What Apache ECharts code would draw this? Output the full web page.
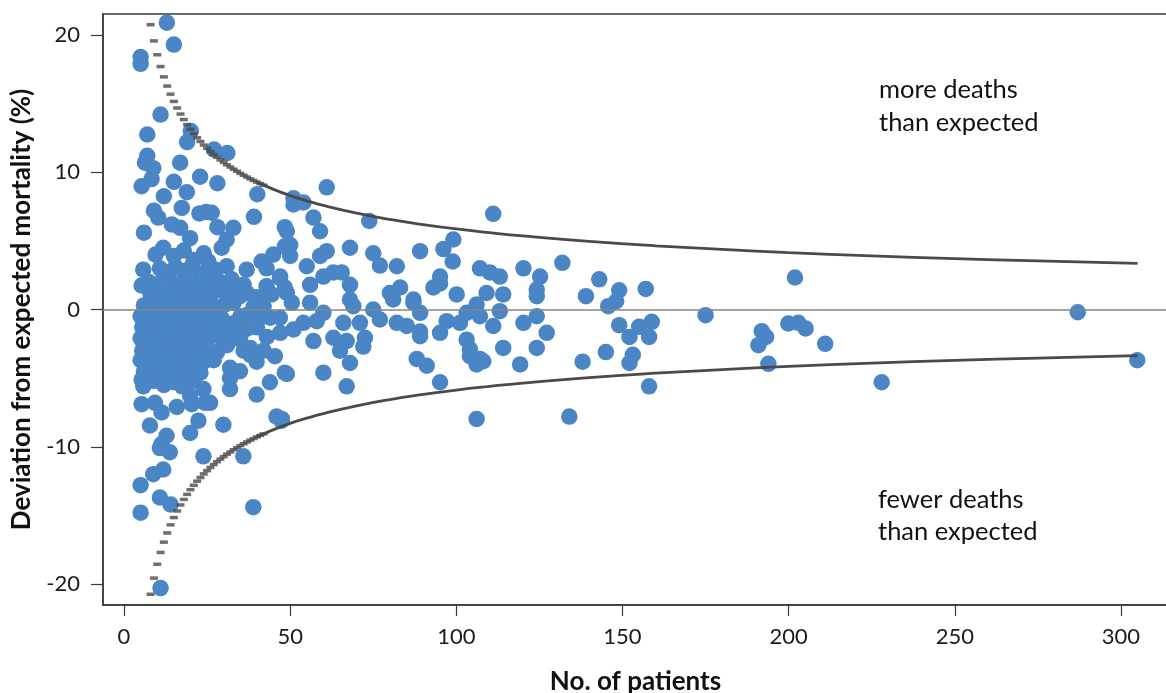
<!DOCTYPE html>
<html><head><meta charset="utf-8">
<script src="https://cdn.jsdelivr.net/npm/echarts@6/dist/echarts.min.js"></script>
<style>html,body{margin:0;padding:0;background:#fff}#c{width:1166px;height:693px}</style>
</head><body><div id="c"></div>
<script>
// Tick labels
const xTicks = [0, 50, 100, 150, 200, 250, 300];
const yTicks = [-20, -10, 0, 10, 20];

// Hospitals: [number of patients, deviation from expected mortality %]
const outerPoints = [
  [12.9,20.9],[15.0,19.3],[5.0,18.4],[5.0,17.9],[11.0,14.2],[7.0,12.75],[20.1,13.0],[19.0,12.2],[27.1,11.65],[31.1,11.4],
  [7.0,11.2],[6.3,10.7],[8.8,10.3],[16.9,10.7],[22.9,9.67],[5.3,8.98],[8.3,9.5],[15.0,9.3],[18.9,8.55],[12.0,8.25],
  [17.4,7.4],[9.0,7.2],[10.3,6.7],[22.7,7.0],[24.7,7.1],[26.4,7.05],[14.4,6.2],[6.0,5.6],[16.9,5.95],[19.9,5.2],
  [11.8,4.5],[28.1,9.2],[40.1,8.4],[39.1,6.75],[28.1,6.0],[32.9,5.95],[30.9,5.1],[29.4,4.5],[48.4,6.0],[48.4,4.6],
  [44.9,4.0],[41.4,3.5],[42.9,3.0],[36.9,2.9],[46.9,2.3],[42.9,1.7],[48.4,1.6],[44.4,1.1],[34.9,0.97],[32.4,2.2],
  [30.9,3.15],[25.4,3.5],[5.8,2.9],[10.8,3.0],[5.3,1.75],[11.8,2.2],
  [15,3.9],[18,4.3],[21,3.6],[24,4.1],[9.5,4.0]
];
const midPoints = [
  [61.0,8.9],[51.0,8.1],[51.0,7.65],[54.0,7.8],[57.0,6.7],[59.0,5.7],[73.8,6.45],[111.1,6.97],[49.0,5.7],[50.0,4.7],
  [50.0,3.9],[55.0,3.15],[59.0,3.9],[61.0,4.25],[68.0,4.5],[75.0,4.1],[77.0,3.2],[82.1,3.15],[89.1,4.25],[99.1,5.1],
  [96.1,4.4],[98.9,3.5],[107.1,3.0],[110.1,2.7],[113.1,2.4],[120.2,3.0],[125.2,2.4],[131.9,3.4],[60.0,2.4],[63.0,2.7],
  [65.5,2.7],[56.0,1.8],[68.0,1.8],[95.1,2.4],[95.1,1.9],[93.1,1.6],[83.1,1.6],[80.0,1.2],[87.1,0.73],[100.1,1.1],
  [109.1,1.2],[114.1,1.1],[124.2,1.46],[124.2,0.97],[68.0,0.73],[69.0,0.24],[75.0,0],[77.0,-0.73],[66.0,-0.97],[71.0,-0.97],
  [81.0,0.73],[87.1,0.5],[89.1,-0.24],[82.1,-0.97],[85.1,-1.2],[89.1,-1.6],[89.1,-1.95],[95.1,-1.7],[97.1,-0.85],[101.1,-0.97],
  [103.1,-0.24],[106.1,0.36],[107.1,-0.49],[111.1,-1.2],[113.1,-0.12],[120.2,-0.97],[124.2,-0.49],[127.2,-1.7],[124.2,-2.8],[114.1,-2.8],
  [103.1,-2.2],[104.1,-2.9],[104.1,-3.4],[107.1,-3.6],[106.1,-4.0],[108.1,-3.77],[88.1,-3.6],[91.1,-4.1],[95.1,-5.3],[106.1,-7.97],
  [119.2,-4.0],[57.0,-2.3],[63.0,-2.06],[67.0,-2.3],[72.5,-2.06],[72.0,-2.7],[65.0,-3.0],[68.0,-3.9],[60.0,-4.6],[67.0,-5.6],
  [49.0,-4.7],[47.5,-7.97],[49,1.2],[50.5,0.5],[56,0.5],[60,-0.24],[54,-0.97],[58,-0.85],[47,-1.7],[51,-1.46],[47,2.4]
];
const rightPoints = [
  [143.0,2.2],[139.0,0.97],[149.0,1.4],[148.1,0.6],[145.7,0.24],[157.0,1.5],[149.0,-1.14],[152.1,-2.0],[155.0,-1.26],[158.8,-0.9],
  [158.0,-2.0],[145.0,-3.1],[138.0,-3.8],[153.1,-3.3],[152.1,-3.9],[158.0,-5.6],[134.0,-7.8],[175.0,-0.41],[201.9,2.33],[191.9,-1.58],
  [193.2,-2.0],[190.9,-2.6],[193.9,-3.96],[199.9,-1.02],[202.9,-0.97],[205.1,-1.38],[211.0,-2.5],[228.0,-5.3],[287.0,-0.2],[304.9,-3.7]
];
const lowerPoints = [
  [5.3,-5.1],[5.8,-5.6],[5.3,-6.9],[9.3,-6.8],[11.3,-7.5],[7.8,-8.45],[12.8,-9.2],[11.3,-9.8],[15.9,-7.1],[19.9,-6.3],
  [20.4,-6.9],[19.9,-9.0],[22.4,-8.1],[23.9,-5.8],[24.4,-6.8],[10.8,-10.1],[13.8,-10.4],[23.9,-10.7],[35.9,-10.7],[11.8,-11.66],
  [8.8,-12.0],[5.0,-12.8],[10.8,-13.7],[14.0,-14.2],[5.0,-14.8],[38.9,-14.4],[11.0,-20.3],
  [46.9,-0.6],[45.4,-3.4],[48.4,-4.6],[43.9,-5.3],[39.9,-3.8],[31.9,-4.25],[34.9,-4.5],[31.9,-5.0],[31.9,-5.8],
  [39.9,-6.2],[25.9,-6.8],[29.9,-8.4],[45.9,-7.8],[47.4,-8.1]
];
const clusterPoints = [
  [13,2.7],[15.5,3.1],[18,2.8],[20.5,3.2],[23,2.6],[27.5,2.9],
  [7.5,2.0],[10,1.8],[13.5,2.2],[16,1.9],[19,2.1],[21.5,1.8],[24,2.2],[26,1.9],[29,2.0],
  [8,1.1],[10.5,1.3],[12.5,1.0],[15,1.4],[17.5,1.1],[20,1.3],[22.5,1.0],[25,1.2],[28,1.4],[31,1.0],[37,1.2],
  [6,0.3],[9,0.5],[11,0.2],[13.5,0.6],[16,0.3],[18.5,0.5],[21,0.2],[23.5,0.4],[26,0.6],[30,0.3],[33,0.5],[39,0.2],
  [5,-0.5],[7,-0.7],[9.5,-0.4],[12,-0.8],[14.5,-0.5],[17,-0.7],[19,-0.4],[21.5,-0.8],[24,-0.6],[27,-0.4],[29.5,-0.7],[35,-0.5],[41,-0.6],
  [5.5,-1.3],[8,-1.5],[10,-1.2],[12.5,-1.6],[15,-1.3],[17.5,-1.5],[20,-1.2],[22.5,-1.6],[25,-1.4],[28,-1.3],[32,-1.5],[37,-1.4],
  [5,-2.1],[7,-2.3],[9,-2.0],[11.5,-2.4],[14,-2.1],[16.5,-2.3],[19,-2.0],[21,-2.4],[23.5,-2.2],[26,-2.0],[30,-2.3],[34,-2.1],
  [5.5,-3.0],[8,-2.8],[10.5,-3.2],[13,-2.9],[15.5,-3.1],[18,-2.8],[20,-3.2],[22.5,-3.0],[25,-2.9],[28,-3.1],[36,-3.0],
  [5,-3.7],[7,-3.9],[9.5,-3.6],[12,-4.0],[14,-3.7],[16.5,-3.9],[19,-3.6],[21.5,-4.0],[24,-3.8],[27,-3.7],
  [6,-4.5],[8.5,-4.7],[11,-4.4],[13.5,-4.8],[16,-4.5],[18,-4.7],[20.5,-4.4],[23,-4.6],
  [9,-5.2],[12,-5.5],[15,-5.3],[17.5,-5.6],[21,-5.2],
  [28,-1.9],[31,-2.6],[33,-1.0],[35,-2.0],[37,-0.4],[38,-2.8],[40,-1.3],[42,0.2],[43,-2.0],[44,-0.6],[40,0.9],[36,1.8],[33,1.5],[38,-3.3],[42,-3.0]
];

// Control limits (dashed section at small n)
const limitDashN = [8,9,10,11,12,13,14,15,16,17,18,19,20,21,22,23,24,25,26,27,28,29,30,31,32,33,34,35,36,37,38,39,40,41,42];
const upperDash = [20.75,19.57,18.56,17.70,16.95,16.28,15.69,15.16,14.68,14.24,13.84,13.47,13.13,12.81,12.51,12.24,11.98,11.74,11.51,11.30,11.09,10.90,10.72,10.54,10.38,10.22,10.07,9.92,9.78,9.65,9.52,9.40,9.28,9.17,9.06];
const lowerDash = [-20.75,-19.57,-18.56,-17.70,-16.95,-16.28,-15.69,-15.16,-14.68,-14.24,-13.84,-13.47,-13.13,-12.81,-12.51,-12.24,-11.98,-11.74,-11.51,-11.30,-11.09,-10.90,-10.72,-10.54,-10.38,-10.22,-10.07,-9.92,-9.78,-9.65,-9.52,-9.40,-9.28,-9.17,-9.06];
// Solid section
const limitLineN = [40,45,50,55,60,70,80,90,100,110,120,140,160,180,200,225,250,275,305];
const upperLine = [9.28,8.75,8.30,7.92,7.58,7.02,6.56,6.19,5.87,5.60,5.36,4.96,4.64,4.38,4.15,3.91,3.71,3.54,3.36];
const lowerLine = [-9.28,-8.75,-8.30,-7.92,-7.58,-7.02,-6.56,-6.19,-5.87,-5.60,-5.36,-4.96,-4.64,-4.38,-4.15,-3.91,-3.71,-3.54,-3.36];

const annotations = [
  {lines: ['more deaths', 'than expected']},
  {lines: ['fewer deaths', 'than expected']}
];

const FONT = 'Lato';
const pts = clusterPoints.concat(outerPoints, midPoints, rightPoints, lowerPoints);
const zip = (xs, ys) => xs.map((x, i) => [x, ys[i]]);
const limitColor = '#4a4a4a';

const chart = echarts.init(document.getElementById('c'), null, {renderer: 'canvas'});
chart.setOption({
  animation: false,
  backgroundColor: '#fff',
  grid: {left: 103, top: 14, right: -2, bottom: 88, containLabel: false, outerBoundsMode: 'none',
    show: true, borderColor: '#3a3a3a', borderWidth: 1.5, backgroundColor: 'transparent'},
  xAxis: {
    type: 'value', min: -6.32, max: 314.15,
    name: 'No. of patients', nameLocation: 'middle', nameGap: 64,
    nameTextStyle: {fontFamily: FONT, fontSize: 26, fontWeight: 'bold', color: '#111'},
    axisLine: {show: true, onZero: false, lineStyle: {color: '#3a3a3a', width: 1.5}},
    axisTick: {show: true, length: 11, customValues: xTicks, lineStyle: {color: '#3a3a3a', width: 1.2}},
    axisLabel: {customValues: xTicks, margin: 21, fontFamily: FONT, fontSize: 22, color: '#1a1a1a'},
    splitLine: {show: false}
  },
  yAxis: {
    type: 'value', min: -21.53, max: 21.53,
    name: 'Deviation from expected mortality (%)', nameLocation: 'middle', nameGap: 68, nameRotate: 90,
    nameTextStyle: {fontFamily: FONT, fontSize: 26, fontWeight: 'bold', color: '#111'},
    axisLine: {show: true, onZero: false, lineStyle: {color: '#3a3a3a', width: 1.5}},
    axisTick: {show: true, length: 12, customValues: yTicks, lineStyle: {color: '#3a3a3a', width: 1.2}},
    axisLabel: {customValues: yTicks, margin: 23, fontFamily: FONT, fontSize: 22, color: '#1a1a1a'},
    splitLine: {show: false}
  },
  series: [
    {
      type: 'scatter', data: pts, symbol: 'circle', symbolSize: 16.5,
      itemStyle: {color: '#4a86c5', opacity: 1}, z: 2, silent: true
    },
    {
      type: 'line', data: [], z: 3, silent: true,
      markLine: {silent: true, symbol: 'none', label: {show: false},
        lineStyle: {color: '#858585', width: 1.5, type: 'solid'},
        data: [{yAxis: 0}]}
    },
    {type: 'scatter', data: zip(limitDashN, upperDash), symbol: 'rect', symbolSize: [8, 3.5],
      itemStyle: {color: limitColor}, z: 4, silent: true},
    {type: 'scatter', data: zip(limitDashN, lowerDash), symbol: 'rect', symbolSize: [8, 3.5],
      itemStyle: {color: limitColor}, z: 4, silent: true},
    {type: 'line', data: zip(limitLineN, upperLine), smooth: true, symbol: 'none',
      lineStyle: {color: limitColor, width: 2.8}, z: 4, silent: true},
    {type: 'line', data: zip(limitLineN, lowerLine), smooth: true, symbol: 'none',
      lineStyle: {color: limitColor, width: 2.8}, z: 4, silent: true}
  ],
  graphic: [
    {type: 'text', left: 879, top: 73, style: {text: annotations[0].lines.join('\n'), font: '25.5px Lato', fill: '#111', lineHeight: 33}},
    {type: 'text', left: 878, top: 484, style: {text: annotations[1].lines.join('\n'), font: '25.5px Lato', fill: '#111', lineHeight: 32}}
  ]
});
</script>
</body></html>
